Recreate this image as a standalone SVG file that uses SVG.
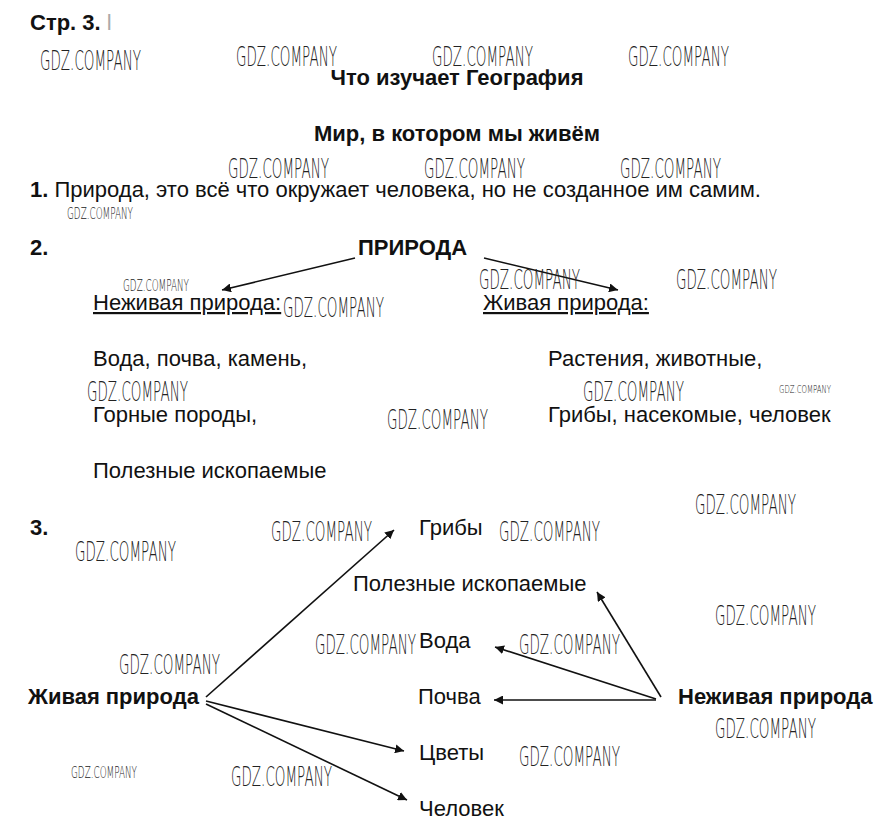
<svg xmlns="http://www.w3.org/2000/svg" width="882" height="840" viewBox="0 0 882 840">
<defs>
<style>
.t{font-family:"Liberation Sans",Arial,sans-serif;font-size:22px;fill:#111}
.b{font-weight:bold}
.wm{font-family:"DejaVu Sans","Liberation Sans",sans-serif;font-size:26px;fill:#222;font-weight:200}
.ws{font-family:"DejaVu Sans","Liberation Sans",sans-serif;font-size:16px;fill:#222;font-weight:200}
.wt{font-family:"DejaVu Sans","Liberation Sans",sans-serif;font-size:11px;fill:#222;font-weight:200}
.c{stroke:#111;stroke-width:1.6;fill:none;marker-end:url(#ah)}
</style>
<marker id="ah" viewBox="0 0 10 10" refX="10" refY="5" markerWidth="9" markerHeight="9" markerUnits="userSpaceOnUse" orient="auto">
<path d="M0,0 L10,5 L0,10 z" fill="#111"/>
</marker>
</defs>
<rect width="882" height="840" fill="#fff"/>

<g id="header">
<text class="t b" x="30" y="30" font-size="21">Стр. 3. <tspan fill="#aaa" font-weight="normal">l</tspan></text>
<text class="t b" x="457" y="85" text-anchor="middle">Что изучает География</text>
<text class="t b" x="457" y="141" text-anchor="middle">Мир, в котором мы живём</text>
<text class="t" x="30" y="197"><tspan class="b">1.</tspan> Природа, это всё что окружает человека, но не созданное им самим.</text>
</g>

<g id="section2">
<text class="t b" x="30" y="255">2.</text>
<g id="n-priroda"><text class="t b" x="358" y="255" font-size="23">ПРИРОДА</text></g>
<g id="n-nezhivaya"><text class="t" x="93" y="310" text-decoration="underline">Неживая природа:</text></g>
<g id="n-zhivaya"><text class="t" x="483" y="310" text-decoration="underline">Живая природа:</text></g>
<g id="list-nezh">
<text class="t" x="93" y="366">Вода, почва, камень,</text>
<text class="t" x="93" y="422">Горные породы,</text>
<text class="t" x="93" y="478">Полезные ископаемые</text>
</g>
<g id="list-zhiv">
<text class="t" x="548" y="366">Растения, животные,</text>
<text class="t" x="548" y="422">Грибы, насекомые, человек</text>
</g>
</g>

<g id="section3">
<text class="t b" x="30" y="535">3.</text>
<g id="n-zhivaya3"><text class="t b" x="28" y="704">Живая природа</text></g>
<g id="n-nezhivaya3"><text class="t b" x="678" y="704">Неживая природа</text></g>
<g id="n-griby"><text class="t" x="419" y="535">Грибы</text></g>
<g id="n-polezn"><text class="t" x="353" y="591">Полезные ископаемые</text></g>
<g id="n-voda"><text class="t" x="419" y="648">Вода</text></g>
<g id="n-pochva"><text class="t" x="418" y="704">Почва</text></g>
<g id="n-cvety"><text class="t" x="419" y="760">Цветы</text></g>
<g id="n-chelovek"><text class="t" x="419" y="816">Человек</text></g>
</g>

<g id="connectors">
<line class="c" x1="355" y1="258" x2="222" y2="290"/>
<line class="c" x1="484" y1="258" x2="618" y2="290"/>
<line class="c" x1="206" y1="697" x2="394" y2="530"/>
<line class="c" x1="206" y1="701" x2="404" y2="751"/>
<line class="c" x1="206" y1="704" x2="407" y2="800"/>
<line class="c" x1="661" y1="697" x2="597" y2="592"/>
<line class="c" x1="656" y1="699" x2="495" y2="647"/>
<line class="c" x1="656" y1="700" x2="494" y2="700"/>
</g>

<g id="watermarks">
<text class="wm" x="40" y="70" textLength="101" lengthAdjust="spacingAndGlyphs">GDZ.COMPANY</text>
<text class="wm" x="236" y="66" textLength="101" lengthAdjust="spacingAndGlyphs">GDZ.COMPANY</text>
<text class="wm" x="432" y="66" textLength="101" lengthAdjust="spacingAndGlyphs">GDZ.COMPANY</text>
<text class="wm" x="628" y="66" textLength="101" lengthAdjust="spacingAndGlyphs">GDZ.COMPANY</text>
<text class="wm" x="228" y="178" textLength="101" lengthAdjust="spacingAndGlyphs">GDZ.COMPANY</text>
<text class="wm" x="424" y="178" textLength="101" lengthAdjust="spacingAndGlyphs">GDZ.COMPANY</text>
<text class="wm" x="620" y="178" textLength="101" lengthAdjust="spacingAndGlyphs">GDZ.COMPANY</text>
<text class="ws" x="67" y="219" textLength="66" lengthAdjust="spacingAndGlyphs">GDZ.COMPANY</text>
<text class="ws" x="123" y="291" textLength="66" lengthAdjust="spacingAndGlyphs">GDZ.COMPANY</text>
<text class="wm" x="283" y="317" textLength="101" lengthAdjust="spacingAndGlyphs">GDZ.COMPANY</text>
<text class="wm" x="479" y="289" textLength="101" lengthAdjust="spacingAndGlyphs">GDZ.COMPANY</text>
<text class="wm" x="676" y="289" textLength="101" lengthAdjust="spacingAndGlyphs">GDZ.COMPANY</text>
<text class="wm" x="87" y="401" textLength="101" lengthAdjust="spacingAndGlyphs">GDZ.COMPANY</text>
<text class="wm" x="583" y="401" textLength="101" lengthAdjust="spacingAndGlyphs">GDZ.COMPANY</text>
<text class="wt" x="779" y="393" textLength="52" lengthAdjust="spacingAndGlyphs">GDZ.COMPANY</text>
<text class="wm" x="387" y="429" textLength="101" lengthAdjust="spacingAndGlyphs">GDZ.COMPANY</text>
<text class="wm" x="695" y="514" textLength="101" lengthAdjust="spacingAndGlyphs">GDZ.COMPANY</text>
<text class="wm" x="75" y="561" textLength="101" lengthAdjust="spacingAndGlyphs">GDZ.COMPANY</text>
<text class="wm" x="271" y="541" textLength="101" lengthAdjust="spacingAndGlyphs">GDZ.COMPANY</text>
<text class="wm" x="499" y="541" textLength="101" lengthAdjust="spacingAndGlyphs">GDZ.COMPANY</text>
<text class="wm" x="715" y="625" textLength="101" lengthAdjust="spacingAndGlyphs">GDZ.COMPANY</text>
<text class="wm" x="315" y="654" textLength="101" lengthAdjust="spacingAndGlyphs">GDZ.COMPANY</text>
<text class="wm" x="519" y="654" textLength="101" lengthAdjust="spacingAndGlyphs">GDZ.COMPANY</text>
<text class="wm" x="119" y="674" textLength="101" lengthAdjust="spacingAndGlyphs">GDZ.COMPANY</text>
<text class="wm" x="715" y="738" textLength="101" lengthAdjust="spacingAndGlyphs">GDZ.COMPANY</text>
<text class="wm" x="519" y="766" textLength="101" lengthAdjust="spacingAndGlyphs">GDZ.COMPANY</text>
<text class="ws" x="71" y="778" textLength="66" lengthAdjust="spacingAndGlyphs">GDZ.COMPANY</text>
<text class="wm" x="231" y="786" textLength="101" lengthAdjust="spacingAndGlyphs">GDZ.COMPANY</text>
</g>
</svg>
